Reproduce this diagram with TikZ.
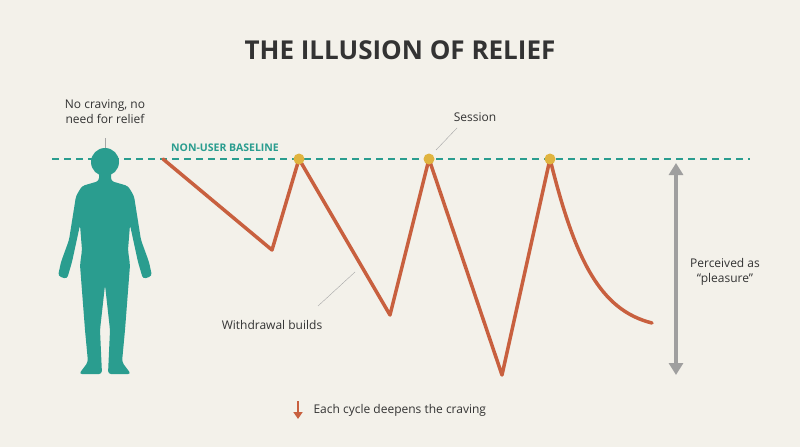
\documentclass[tikz,border=0pt]{standalone}
\usepackage{fontspec}
\setmainfont{Open Sans}
\usetikzlibrary{arrows.meta}
\definecolor{bgc}{HTML}{F3F1EA}
\definecolor{teal}{HTML}{2A9D8F}
\definecolor{rust}{HTML}{C8603F}
\definecolor{gold}{HTML}{E0B43F}
\definecolor{ink}{HTML}{333333}
\tikzset{
  lbl/.style={font=\fontsize{12}{15}\selectfont, text=ink, align=center},
  lead/.style={draw=gray!70, thin},
  peak/.style={circle, fill=gold, inner sep=0pt, minimum size=11pt},
  pt/.style={inner sep=0pt, minimum size=0pt}
}
\begin{document}
\begin{tikzpicture}[x=1pt, y=-1pt]
  \fill[bgc] (0,0) rectangle (800,447);
  \useasboundingbox (0,0) rectangle (800,447);
  \node[font=\fontsize{26}{30}\bfseries\selectfont, text=ink](title) at (400,50) {THE ILLUSION OF RELIEF};

  % person
  \fill[teal] (105,162) circle (14);
  \fill[teal, rounded corners=3pt]
    (99,172) -- (99,181) -- (82,186) -- (76,196) -- (69,240) -- (61,262) -- (58,276)
    -- (67,279) -- (72,262) -- (80,225) -- (82,250) -- (80,265) -- (85,330) -- (88,362)
    -- (79,374) -- (102,374) -- (100,330) -- (105,285)
    -- (110,330) -- (108,374) -- (131,374) -- (122,362) -- (125,330) -- (130,265)
    -- (128,250) -- (130,225) -- (138,262) -- (143,279) -- (152,276) -- (149,262)
    -- (141,240) -- (134,196) -- (128,186) -- (111,181) -- (111,172) -- cycle;
  \node[lbl](calm) at (105,112) {No craving, no\\need for relief};
  \draw[lead] (105,138) -- (105,148);

  % baseline
  \draw[teal, line width=1.8pt, dash pattern=on 7pt off 5pt] (52,159) -- (750,159);
  \node[font=\fontsize{10.5}{12}\bfseries\selectfont, text=teal](base) at (225,148) {NON-USER BASELINE};

  % cycles
  \coordinate (s) at (163,159);
  \coordinate (d1) at (272,250);
  \node[pt](p1) at (299,159) {};
  \coordinate (d2) at (390,315);
  \node[pt](p2) at (429,159) {};
  \coordinate (d3) at (502,375);
  \node[pt](p3) at (550,159) {};
  \coordinate (e) at (652,323);
  \draw[rust, line width=3.5pt, line join=round, line cap=round]
    (s) -- (d1) -- (p1.center) -- (d2) -- (p2.center) -- (d3) -- (p3.center)
    .. controls (575,260) and (600,310) .. (e);
  \foreach \p in {p1,p2,p3} \node[peak] at (\p) {};

  \node[lbl](sess) at (475,117) {Session};
  \draw[lead] (457,128) -- (436,150);
  \node[lbl](wd) at (272,325) {Withdrawal builds};
  \draw[lead] (318,306) -- (355,272);

  % perceived range
  \coordinate (top) at (676,163);
  \coordinate (bot) at (676,375);
  \draw[gray!75, line width=3.5pt, {Triangle[width=14pt,length=12pt]}-{Triangle[width=14pt,length=12pt]}] (top) -- (bot);
  \node[lbl](perc) at (725,272) {Perceived as\\“pleasure”};

  % footer
  \coordinate (ar) at (298,401);
  \draw[rust, line width=2pt, -{Triangle[width=9pt,length=7pt]}] (ar) -- ++(0,18);
  \node[lbl, anchor=west](foot) at (310,410) {Each cycle deepens the craving};
\end{tikzpicture}
\end{document}
